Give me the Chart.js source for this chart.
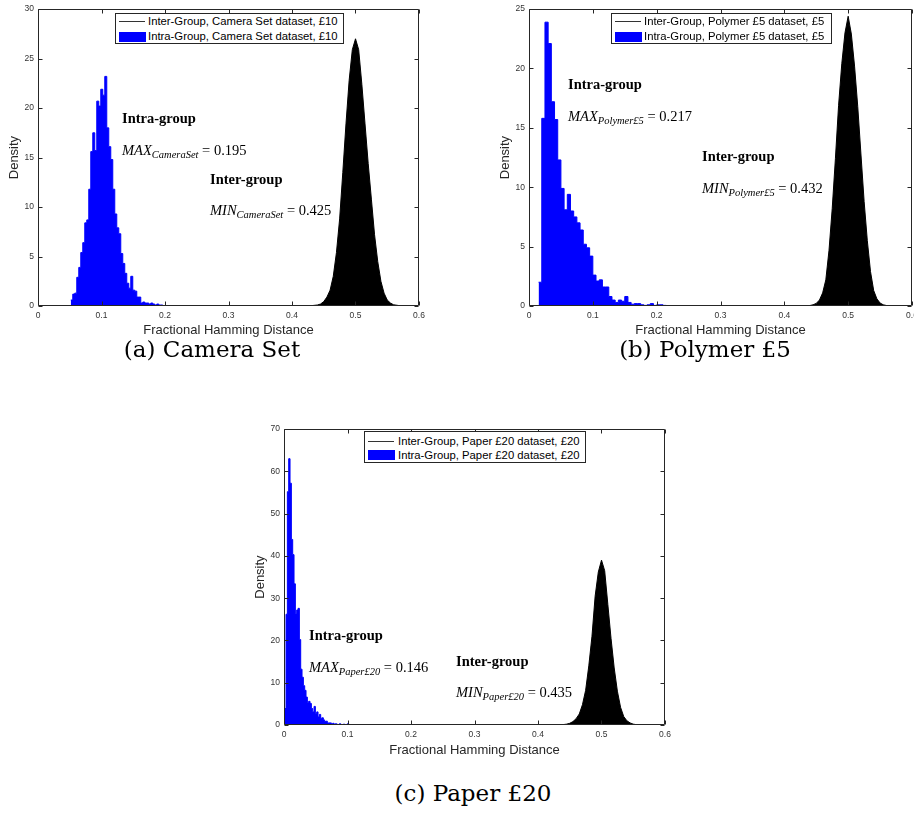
<!DOCTYPE html>
<html>
<head>
<meta charset="utf-8">
<script src="https://cdn.jsdelivr.net/npm/chart.js@4.4.1/dist/chart.umd.min.js"></script>
<style>
  html, body { margin: 0; padding: 0; background: #fff; }
  body { width: 914px; height: 815px; position: relative; overflow: hidden; }
  canvas { position: absolute; }
  .ann { position: absolute; font-family: "Liberation Serif", "DejaVu Serif", serif; font-size: 14.5px; line-height: 16px; white-space: nowrap; color: #000; }
  .ann.b { font-weight: bold; }
  .ann i { font-style: italic; }
  .ann sub { font-size: 10.5px; font-style: italic; vertical-align: -3px; line-height: 0; }
  .legend { position: absolute; border: 1px solid #262626; background: #fff; box-sizing: border-box;
            font-family: "Liberation Sans", Arial, sans-serif; font-size: 11.3px; color: #000; }
  .legend .row { position: absolute; white-space: nowrap; line-height: 13px; }
  .legend .line { position: absolute; height: 0; border-top: 1.3px solid #333; }
  .legend .patch { position: absolute; background: #0000ff; }
  .cap { position: absolute; font-family: "DejaVu Serif", serif; font-size: 23px; line-height: 26px; text-align: center; white-space: nowrap; color: #000; }
</style>
</head>
<body>
<canvas id="chartCamera" width="430" height="340" style="left:0px;top:0px"></canvas>
<canvas id="chartPolymer" width="440" height="340" style="left:491px;top:0px"></canvas>
<canvas id="chartPaper" width="430" height="340" style="left:246px;top:420px"></canvas>

<!-- legends -->
<div class="legend" style="left:115px;top:13px;width:229px;height:31px">
  <div class="line" style="left:3px;width:26px;top:7px"></div>
  <div class="row" style="left:32px;top:1px">Inter-Group, Camera Set dataset, £10</div>
  <div class="patch" style="left:3px;width:27px;top:18px;height:10px"></div>
  <div class="row" style="left:32px;top:16px">Intra-Group, Camera Set dataset, £10</div>
</div>
<div class="legend" style="left:611px;top:13px;width:221px;height:31px">
  <div class="line" style="left:3px;width:26px;top:7px"></div>
  <div class="row" style="left:32px;top:1px">Inter-Group, Polymer £5 dataset, £5</div>
  <div class="patch" style="left:3px;width:27px;top:18px;height:10px"></div>
  <div class="row" style="left:32px;top:16px">Intra-Group, Polymer £5 dataset, £5</div>
</div>
<div class="legend" style="left:364px;top:431px;width:222px;height:32px">
  <div class="line" style="left:3px;width:26px;top:9px"></div>
  <div class="row" style="left:33px;top:3px">Inter-Group, Paper £20 dataset, £20</div>
  <div class="patch" style="left:3px;width:27px;top:18px;height:10px"></div>
  <div class="row" style="left:33px;top:17px">Intra-Group, Paper £20 dataset, £20</div>
</div>

<!-- annotations -->
<div class="ann b" style="left:122px;top:110px">Intra-group</div>
<div class="ann" style="left:122px;top:142px"><i>MAX</i><sub>CameraSet</sub> = 0.195</div>
<div class="ann b" style="left:210px;top:171px">Inter-group</div>
<div class="ann" style="left:210px;top:202px"><i>MIN</i><sub>CameraSet</sub> = 0.425</div>

<div class="ann b" style="left:568px;top:76px">Intra-group</div>
<div class="ann" style="left:568px;top:108px"><i>MAX</i><sub>Polymer£5</sub> = 0.217</div>
<div class="ann b" style="left:702px;top:148px">Inter-group</div>
<div class="ann" style="left:702px;top:180px"><i>MIN</i><sub>Polymer£5</sub> = 0.432</div>

<div class="ann b" style="left:309px;top:627px">Intra-group</div>
<div class="ann" style="left:309px;top:659px"><i>MAX</i><sub>Paper£20</sub> = 0.146</div>
<div class="ann b" style="left:456px;top:653px">Inter-group</div>
<div class="ann" style="left:456px;top:684px"><i>MIN</i><sub>Paper£20</sub> = 0.435</div>

<!-- captions -->
<div class="cap" style="left:62px;width:300px;top:336px">(a) Camera Set</div>
<div class="cap" style="left:555px;width:300px;top:336px">(b) Polymer £5</div>
<div class="cap" style="left:323px;width:300px;top:780px">(c) Paper £20</div>

<script>
// Camera Set (a)
var camIntraStart = 0.0516, camIntraWidth = 0.00315;
var camIntra = [0.6, 1.2, 1.3, 2.9, 3.9, 5.4, 6.4, 8.4, 8.7, 11.8, 15.6, 17.5, 15.7, 20.7, 20.2, 21.9,
    21.3, 23.2, 18.0, 16.1, 14.8, 11.8, 9.3, 7.9, 7.3, 5.3, 4.3, 3.3, 2.3, 1.8, 3.0, 1.6, 1.5, 0.9,
    0.9, 0.3, 0.4, 0.3, 0.3, 0.2, 0.3, 0.2, 0.1, 0.2, 0.1, 0.1];
var camInterX = [0.420, 0.430, 0.440, 0.445, 0.450, 0.455, 0.460, 0.465, 0.470, 0.475, 0.480, 0.485,
    0.490, 0.495, 0.500, 0.505, 0.510, 0.515, 0.520, 0.525, 0.530, 0.535, 0.540, 0.545, 0.550, 0.555,
    0.560, 0.570, 0.580];
var camInter = [0, 0.03, 0.1, 0.2, 0.45, 0.9, 1.6, 3.0, 5.4, 8.8, 13.5, 18.4, 22.8, 25.9, 27.0, 25.9,
    22.4, 18.4, 14.4, 10.8, 7.2, 4.5, 2.5, 1.3, 0.6, 0.3, 0.12, 0.03, 0];

// Polymer £5 (b)
var polyIntraStart = 0.015, polyIntraWidth = 0.005;
var polyIntra = [2.0, 15.8, 23.9, 22.1, 17.2, 15.7, 12.3, 9.9, 8.1, 9.4, 8.0, 7.5, 7.0, 6.4, 5.2, 4.9,
    4.2, 2.6, 2.1, 2.2, 1.6, 1.6, 0.8, 0.5, 0.3, 0.5, 0.4, 0.8, 0.3, 0.15, 0.2, 0.2, 0.1, 0.05, 0.1,
    0.2, 0.05, 0.1, 0.1, 0.05];
var polyInterX = [0.430, 0.440, 0.445, 0.450, 0.455, 0.460, 0.465, 0.470, 0.475, 0.480, 0.485, 0.490,
    0.495, 0.500, 0.505, 0.510, 0.515, 0.520, 0.525, 0.530, 0.535, 0.540, 0.545, 0.550, 0.555, 0.560, 0.570];
var polyInter = [0, 0.04, 0.1, 0.22, 0.5, 1.1, 2.2, 4.7, 8.2, 12.4, 16.9, 20.4, 23.0, 24.4, 22.9,
    20.2, 16.8, 12.8, 8.8, 5.5, 2.9, 1.3, 0.6, 0.25, 0.1, 0.04, 0];

// Paper £20 (c)
var paperIntraStart = 0.0011, paperIntraWidth = 0.0021;
var paperIntra = [3.9, 26.2, 55.2, 63.0, 57.2, 43.9, 40.3, 33.4, 26.4, 27.2, 27.6, 20.2, 13.2, 11.3,
    9.3, 8.2, 6.6, 5.4, 5.6, 5.1, 3.9, 3.1, 4.4, 2.7, 3.1, 1.9, 2.5, 1.6, 1.7, 1.2, 0.8, 0.9, 0.5, 0.5,
    0.5, 0.3, 0.4, 0.2, 0.3, 0.15, 0.1, 0.3, 0.1, 0.05, 0.2, 0.1, 0.05, 0.3, 0.05, 0.05, 0, 0.05, 0, 0,
    0.05, 0, 0, 0.05, 0, 0, 0, 0, 0, 0, 0, 0, 0.05, 0, 0, 0.05];
var paperInterX = [0.435, 0.440, 0.445, 0.450, 0.455, 0.460, 0.465, 0.470, 0.475, 0.480, 0.485, 0.490,
    0.495, 0.500, 0.505, 0.510, 0.515, 0.520, 0.525, 0.530, 0.535, 0.540, 0.545, 0.550, 0.555, 0.560];
var paperInter = [0, 0.1, 0.2, 0.4, 0.8, 1.5, 2.6, 4.8, 8.2, 14.0, 21.0, 30.5, 36.2, 39.0, 36.5, 28.5,
    20.5, 13.5, 8.0, 4.2, 2.0, 1.0, 0.5, 0.2, 0.08, 0];

var xTicks = { min: 0, max: 0.6, step: 0.1 };

(function () {
    var axisColor = '#262626';
    var sans = '"Liberation Sans", Arial, sans-serif';

    // MATLAB style box with inward ticks on all four sides
    var boxPlugin = {
        id: 'matlabBox',
        afterDatasetsDraw: function (chart) {
            var a = chart.chartArea, ctx = chart.ctx;
            var xs = chart.scales.x, ys = chart.scales.y;
            ctx.save();
            ctx.strokeStyle = axisColor;
            ctx.lineWidth = 1;
            var l = Math.round(a.left) + 0.5, r = Math.round(a.right) - 0.5;
            var t = Math.round(a.top) + 0.5, b = Math.round(a.bottom) - 0.5;
            ctx.beginPath();
            ctx.rect(l, t, r - l, b - t);
            xs.ticks.forEach(function (tk) {
                var px = Math.round(xs.getPixelForValue(tk.value)) + 0.5;
                ctx.moveTo(px, b); ctx.lineTo(px, b - 4);
                ctx.moveTo(px, t); ctx.lineTo(px, t + 4);
            });
            ys.ticks.forEach(function (tk) {
                var py = Math.round(ys.getPixelForValue(tk.value)) + 0.5;
                ctx.moveTo(l, py); ctx.lineTo(l + 4, py);
                ctx.moveTo(r, py); ctx.lineTo(r - 4, py);
            });
            ctx.stroke();
            ctx.restore();
        }
    };

    function histPoints(start, width, vals) {
        var pts = vals.map(function (v, i) { return { x: start + i * width, y: v }; });
        pts.push({ x: start + vals.length * width, y: 0 });
        return pts;
    }

    function curvePoints(xs, ys) {
        return xs.map(function (x, i) { return { x: x, y: ys[i] }; });
    }

    function renderHist(id, inter, intra, yMax, yStep, padRight, xHeight) {
        var ctx = document.getElementById(id);
        return new Chart(ctx, {
            type: 'line',
            data: {
                datasets: [{
                    label: 'Inter-Group',
                    data: inter,
                    borderColor: '#000000',
                    backgroundColor: '#000000',
                    borderWidth: 1,
                    fill: 'origin',
                    pointRadius: 0,
                    tension: 0
                }, {
                    label: 'Intra-Group',
                    data: intra,
                    stepped: true,
                    borderColor: '#0000ff',
                    backgroundColor: '#0000ff',
                    borderWidth: 1,
                    fill: 'origin',
                    pointRadius: 0
                }]
            },
            options: {
                responsive: false,
                animation: false,
                devicePixelRatio: 1,
                layout: { padding: { left: 0, right: padRight, top: 5, bottom: 0 } },
                plugins: {
                    legend: { display: false },
                    tooltip: { enabled: false }
                },
                scales: {
                    x: {
                        type: 'linear',
                        min: xTicks.min,
                        max: xTicks.max,
                        grid: { display: false, drawTicks: false },
                        border: { display: false },
                        ticks: { stepSize: xTicks.step, padding: 5, maxRotation: 0, color: '#333', font: { family: sans, size: 8.5 } },
                        title: { display: true, text: 'Fractional Hamming Distance', color: axisColor,
                                 font: { family: sans, size: 13 }, padding: { top: 0, bottom: 1.5 } },
                        afterFit: function (s) { s.height = xHeight; }
                    },
                    y: {
                        type: 'linear',
                        min: 0,
                        max: yMax,
                        grid: { display: false, drawTicks: false },
                        border: { display: false },
                        ticks: { stepSize: yStep, padding: 4, color: '#333', font: { family: sans, size: 8.5 } },
                        title: { display: true, text: 'Density', color: axisColor,
                                 font: { family: sans, size: 13 }, padding: { top: 7, bottom: 0 } },
                        afterFit: function (s) { s.width = 38; }
                    }
                }
            },
            plugins: [boxPlugin]
        });
    }

    renderHist('chartCamera', curvePoints(camInterX, camInter),
        histPoints(camIntraStart, camIntraWidth, camIntra), 30, 5, 11, 34);
    renderHist('chartPolymer', curvePoints(polyInterX, polyInter),
        histPoints(polyIntraStart, polyIntraWidth, polyIntra), 25, 5, 19, 34);
    renderHist('chartPaper', curvePoints(paperInterX, paperInter),
        histPoints(paperIntraStart, paperIntraWidth, paperIntra), 70, 10, 11, 35);
})();
</script>
</body>
</html>
